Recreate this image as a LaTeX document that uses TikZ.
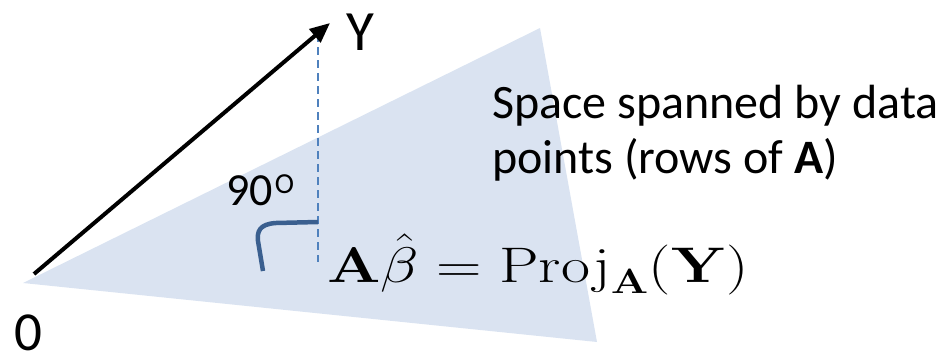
\documentclass[tikz,border=0pt]{standalone}
\usepackage{fix-cm}
\usepackage{graphicx}
\usepackage[no-math]{fontspec}
\setmainfont{Carlito}
\usetikzlibrary{arrows.meta}
\definecolor{planefill}{HTML}{DAE3F1}
\definecolor{dashblue}{HTML}{4F81BD}
\definecolor{markblue}{HTML}{3A5F8F}
\tikzset{
  plane/.style={fill=planefill,draw=none},
  vec/.style={line width=4pt,-{Triangle[length=20pt,width=17pt]}},
  perp/.style={dashblue,line width=2.2pt,dash pattern=on 8pt off 5pt},
  rmark/.style={markblue,line width=4.5pt},
  lbl/.style={inner sep=0pt,anchor=base west}
}
\begin{document}
\begin{tikzpicture}[x=1pt,y=-1pt]
\useasboundingbox (0,0) rectangle (942,351);
\coordinate (pl) at (23,283);
\coordinate (pt) at (540,28);
\coordinate (pb) at (597,342);
\fill[plane] (pl) -- (pt) -- (pb) -- cycle;
\coordinate (o) at (34,274);
\coordinate (ytip) at (330,23);
\coordinate (ytop) at (318,34);
\coordinate (foot) at (318,262);
\draw[perp] (ytop) -- (foot);
\draw[vec] (o) -- (ytip);
\coordinate (m1) at (318,222);
\coordinate (m2) at (263,271);
\draw[rmark] (m1) -- (276,223) .. controls (259,224) and (257,232) .. (258,241) -- (m2);
\node[lbl,font=\fontsize{57}{60}\selectfont] (ylab) at (346,50) {Y};
\node[lbl,font=\fontsize{55}{60}\selectfont] (zlab) at (14,350) {0};
\node[lbl,font=\fontsize{46}{50}\selectfont] (ang) at (226,205) {90\kern2pt\raisebox{12pt}{\fontsize{29}{30}\selectfont O}};
\node[lbl,font=\fontsize{48}{55}\selectfont] (sp1) at (492,118) {Space spanned by data};
\node[lbl,font=\fontsize{48}{55}\selectfont] (sp2) at (492,173) {points (rows of \textbf{A})};
\node[lbl,font=\fontsize{50}{55}\selectfont] (eq) at (327,282) {\scalebox{1.26}[1]{$\mathbf{A}\hat{\beta}=\mathrm{Proj}_{\mathbf{A}}(\mathbf{Y})$}};
\end{tikzpicture}
\end{document}
